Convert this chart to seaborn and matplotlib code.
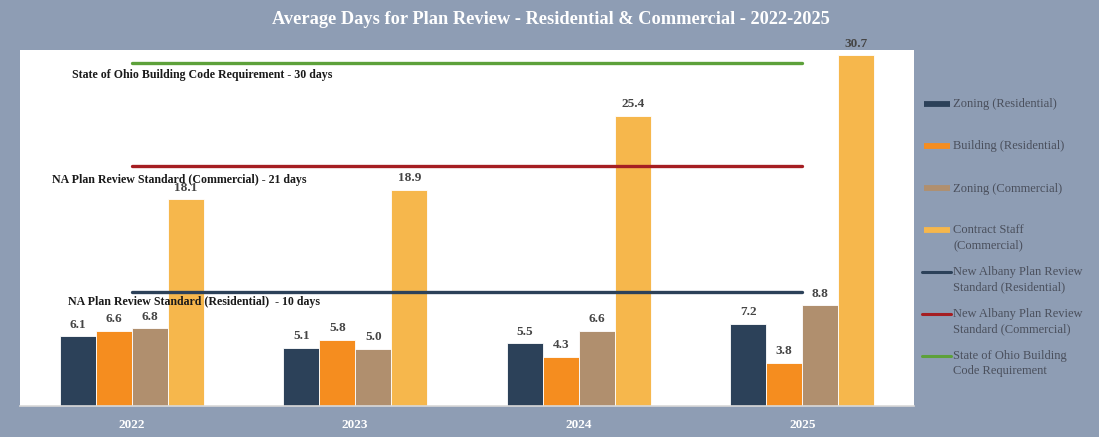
import matplotlib
matplotlib.use("Agg")
import matplotlib.pyplot as plt
from matplotlib.lines import Line2D
import seaborn as sns
import pandas as pd

# Data: average days for plan review by year
years = ["2022", "2023", "2024", "2025"]
series_names = [
    "Zoning (Residential)",
    "Building (Residential)",
    "Zoning (Commercial)",
    "Contract Staff (Commercial)",
]
zoning_res = [6.1, 5.1, 5.5, 7.2]
building_res = [6.6, 5.8, 4.3, 3.8]
zoning_com = [6.8, 5.0, 6.6, 8.8]
contract_com = [18.1, 18.9, 25.4, 30.7]

# Review standards (days)
std_residential = 10
std_commercial = 21
std_ohio = 30

bar_colors = ["#2C4159", "#F58D1F", "#B08F6E", "#F6B74C"]
line_colors = {"res": "#2C4159", "com": "#A51E22", "ohio": "#5DA13A"}
bg = "#8E9DB4"

sns.set_theme(style="white")
plt.rcParams["font.family"] = ["Liberation Serif", "DejaVu Serif"]

rows = []
for name, vals in zip(series_names, [zoning_res, building_res, zoning_com, contract_com]):
    for y, v in zip(years, vals):
        rows.append({"year": y, "series": name, "days": v})
df = pd.DataFrame(rows)

fig = plt.figure(figsize=(10.99, 4.37), dpi=100, facecolor=bg)
ax = fig.add_axes([20 / 1099, 1 - 406 / 437, 894 / 1099, 356 / 437])
ax.set_facecolor("white")

sns.barplot(
    data=df, x="year", y="days", hue="series", order=years, hue_order=series_names,
    palette=bar_colors, saturation=1, width=0.644, gap=0, edgecolor="white",
    linewidth=0.6, legend=False, ax=ax,
)

# value labels above each bar
for container in ax.containers:
    ax.bar_label(container, fmt="%.1f", padding=4, fontsize=9.5, fontweight="semibold",
                 color="#454545", clip_on=False)

# standard lines across the category centers
xs = list(range(len(years)))
for val, key in [(std_residential, "res"), (std_commercial, "com"), (std_ohio, "ohio")]:
    sns.lineplot(x=xs, y=[val] * len(xs), color=line_colors[key], linewidth=2.4, ax=ax)

ax.set_xlim(-0.5, len(years) - 0.5)
ax.set_ylim(0, 31.15)

# line annotations
ann_kw = dict(fontsize=8.6, fontweight="bold", color="#1a1a1a", va="center", ha="left")
ax.text(-0.268, std_ohio - 1.05, "State of Ohio Building Code Requirement - 30 days", **ann_kw)
ax.text(-0.357, std_commercial - 1.2, "NA Plan Review Standard (Commercial) - 21 days", **ann_kw)
ax.text(-0.285, std_residential - 0.9, "NA Plan Review Standard (Residential)  - 10 days", **ann_kw)

ax.set_xlabel("")
ax.set_ylabel("")
ax.set_yticks([])
ax.tick_params(axis="x", length=0, pad=9, labelsize=9.5, labelcolor="white")
for lbl in ax.get_xticklabels():
    lbl.set_fontweight("bold")
for side in ["top", "right", "left"]:
    ax.spines[side].set_visible(False)
ax.spines["bottom"].set_color("#d9d9d9")
ax.spines["bottom"].set_linewidth(1.2)

fig.text(551 / 1099, 1 - 19 / 437,
         "Average Days for Plan Review - Residential & Commercial - 2022-2025",
         ha="center", va="center", color="white", fontsize=13.2, fontweight="bold")

# legend, drawn entry by entry on the right panel
legend_items = [
    ("bar", bar_colors[0], "Zoning (Residential)"),
    ("bar", bar_colors[1], "Building (Residential)"),
    ("bar", bar_colors[2], "Zoning (Commercial)"),
    ("bar", bar_colors[3], "Contract Staff\n(Commercial)"),
    ("line", line_colors["res"], "New Albany Plan Review\nStandard (Residential)"),
    ("line", line_colors["com"], "New Albany Plan Review\nStandard (Commercial)"),
    ("line", line_colors["ohio"], "State of Ohio Building\nCode Requirement"),
]
W, H = 1099, 437
for i, (kind, color, label) in enumerate(legend_items):
    yp = 104 + 42 * i
    yf = 1 - yp / H
    if kind == "bar":
        fig.add_artist(Line2D([924 / W, 950 / W], [yf, yf], color=color, linewidth=4.2,
                              solid_capstyle="butt"))
    else:
        fig.add_artist(Line2D([922 / W, 951 / W], [yf, yf], color=color, linewidth=2.2,
                              solid_capstyle="round"))
    fig.text(953 / W, 1 - (yp - 5.5) / H, label, ha="left", va="top", fontsize=9,
             color="#4a4f5c", linespacing=1.3)

fig.savefig("out.png", dpi=100, facecolor=bg)
